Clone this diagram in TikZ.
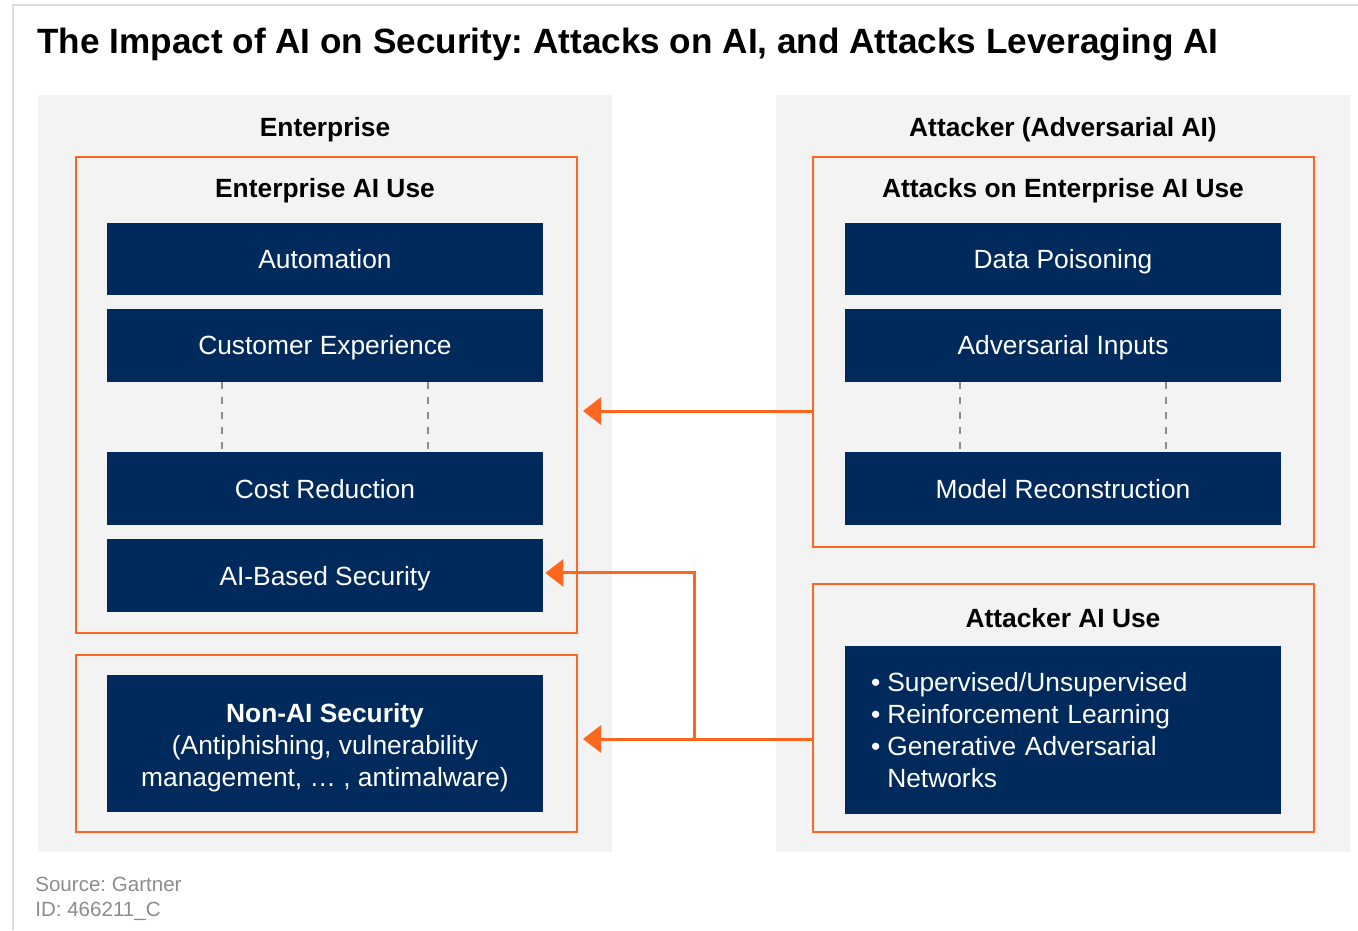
\documentclass[tikz,border=0pt]{standalone}
\usepackage{fontspec}
\setmainfont{Liberation Sans}
\usetikzlibrary{arrows.meta, positioning}
\definecolor{gnavy}{RGB}{0,42,92}
\definecolor{gorange}{RGB}{255,102,31}
\definecolor{gpanel}{RGB}{243,243,243}
\definecolor{gframe}{RGB}{220,220,220}
\definecolor{gsource}{RGB}{140,140,140}
\frenchspacing

\begin{document}
\begin{tikzpicture}[x=0.02cm, y=-0.02cm, node distance=1.73cm, on grid,
    panel/.style={fill=gpanel, minimum width=11.48cm, minimum height=15.14cm, inner sep=0},
    gbox/.style={draw=gorange, line width=1.4pt, minimum width=10.02cm, inner sep=0},
    navybox/.style={fill=gnavy, text=white, font=\fontsize{15}{18.2}\selectfont,
        minimum width=8.72cm, minimum height=1.46cm, inner sep=0},
    navyone/.style={navybox, text height=10.8pt, text depth=0pt},
    head/.style={font=\bfseries\fontsize{15}{18}\selectfont},
    dots/.style={draw=gray!90, line width=1.1pt, dash pattern=on 4pt off 4.5pt},
    feed/.style={draw=gorange, line width=1.7pt, -{Triangle[length=0.36cm, width=0.54cm]}},
    note/.style={anchor=base west, inner sep=0, text=gsource, font=\fontsize{11.7}{14}\selectfont}]
    \useasboundingbox (0,0) rectangle (1358,930);
    \draw[gframe, line width=1.2pt] (13,930) -- (13,5) -- (1358,5);

    \node[anchor=base west, inner sep=0, font=\bfseries\fontsize{20}{24}\selectfont] (title) at (37,53)
        {The Impact of AI on Security: Attacks on AI, and Attacks Leveraging AI};

    % two sides
    \node[panel] (ent) at (325,473.5) {};
    \node[panel] (att) at (1063,473.5) {};
    \node[head] (enthead) at (325,130) {Enterprise};
    \node[head] (atthead) at (1063,130) {Attacker (Adversarial AI)};

    % enterprise side
    \node[gbox, minimum height=9.52cm] (entuse) at (326.5,395) {};
    \node[gbox, minimum height=3.54cm] (nonaibox) at (326.5,743.5) {};
    \node[head] (entusehead) at (325,191) {Enterprise AI Use};
    \node[navyone] (auto) at (325,259) {Automation};
    \node[navyone] (cust) [below=of auto] {Customer Experience};
    \node[navyone] (cost) [below=2.87cm of cust] {Cost Reduction};
    \node[navyone] (aisec) [below=1.74cm of cost] {AI-Based Security};
    \node[navybox, minimum height=2.74cm] (nonai) at (325,743.5)
        {\raisebox{-2.5pt}[\height][\depth]{\begin{tabular}{@{}c@{}}
            \textbf{Non-AI Security}\\
            (Antiphishing, vulnerability\\
            management, … , antimalware)
        \end{tabular}}};

    % attacker side
    \node[gbox, minimum height=7.8cm] (attacks) at (1063.5,352) {};
    \node[gbox, minimum height=4.96cm] (attuse) at (1063.5,708) {};
    \node[head] (attackshead) at (1063,191) {Attacks on Enterprise AI Use};
    \node[head] (attusehead) at (1063,618) {Attacker AI Use};
    \node[navyone] (poison) at (1063,259) {Data Poisoning};
    \node[navyone] (advin) [below=of poison] {Adversarial Inputs};
    \node[navyone] (modrec) [below=2.87cm of advin] {Model Reconstruction};
    \node[navybox, minimum height=3.36cm, text width=7.68cm, inner xsep=0.52cm, align=left] (attlist) at (1063,730)
        {\raisebox{-1.8pt}[\height][\depth]{\begin{tabular}{@{}l@{\hspace{4pt}}l@{}}
            • & Supervised/Unsupervised\\
            • & Reinforcement Learning\\
            • & Generative Adversarial\\
              & Networks
        \end{tabular}}};

    % elided items
    \draw[dots] ([xshift=-2.06cm]cust.south) -- ([xshift=-2.06cm]cost.north);
    \draw[dots] ([xshift=2.06cm]cust.south) -- ([xshift=2.06cm]cost.north);
    \draw[dots] ([xshift=-2.06cm]advin.south) -- ([xshift=-2.06cm]modrec.north);
    \draw[dots] ([xshift=2.06cm]advin.south) -- ([xshift=2.06cm]modrec.north);

    % arrows
    \coordinate (t1) at (583,411);
    \coordinate (t2) at (583,739);
    \coordinate (fork) at (694,739);
    \draw[feed] (attacks.west |- t1) -- (t1);
    \draw[feed] (attuse.west |- t2) -- (t2);
    \draw[feed] (fork) |- ([yshift=0.06cm, xshift=0.04cm]aisec.east);

    \node[note] (src) at (35,891) {Source: Gartner};
    \node[note] (srcid) at (35,916) {ID: 466211\_C};
\end{tikzpicture}
\end{document}
